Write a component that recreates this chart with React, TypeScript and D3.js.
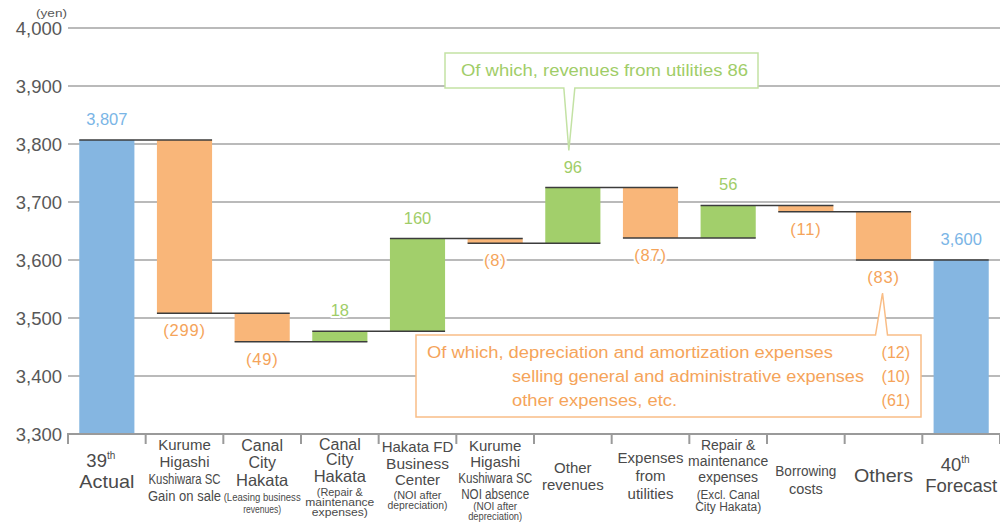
import * as d3 from "d3";

// waterfall: 39th actual -> 40th forecast (yen per unit)
const categories = [
  "39th Actual",
  "Kurume Higashi Kushiwara SC Gain on sale",
  "Canal City Hakata (Leasing business revenues)",
  "Canal City Hakata (Repair & maintenance expenses)",
  "Hakata FD Business Center (NOI after depreciation)",
  "Kurume Higashi Kushiwara SC NOI absence (NOI after depreciation)",
  "Other revenues",
  "Expenses from utilities",
  "Repair & maintenance expenses (Excl. Canal City Hakata)",
  "Borrowing costs",
  "Others",
  "40th Forecast",
];
const values = [3807, -299, -49, 18, 160, -8, 96, -87, 56, -11, -83, 3600];
const isTotal = [true, false, false, false, false, false, false, false, false, false, false, true];
const yTicks = [3300, 3400, 3500, 3600, 3700, 3800, 3900, 4000];

// x-axis label lines: [text, fontSize, baseline, textLength?, superscript?]
const axisLabels: [string, number, number, number?, string?][][] = [
  [["39", 18.5, 467, undefined, "th"], ["Actual", 18.5, 488, 55]],
  [["Kurume", 15, 450], ["Higashi", 15, 467], ["Kushiwara SC", 14, 484, 72], ["Gain on sale", 14, 501, 73]],
  [["Canal", 16, 451], ["City", 16, 468], ["Hakata", 16.5, 486], ["(Leasing business", 11, 501, 77], ["revenues)", 11, 513, 38]],
  [["Canal", 16, 450], ["City", 16, 465], ["Hakata", 16.5, 482], ["(Repair &", 11, 496, 46], ["maintenance", 11, 506, 69], ["expenses)", 11, 516, 56]],
  [["Hakata FD", 15, 452], ["Business", 15.5, 469], ["Center", 15, 485], ["(NOI after", 11, 499, 48], ["depreciation)", 11, 509, 60]],
  [["Kurume", 15, 451], ["Higashi", 15, 467], ["Kushiwara SC", 14, 483, 74], ["NOI absence", 14, 499, 68], ["(NOI after", 10, 510, 44], ["depreciation)", 10, 520, 54]],
  [["Other", 15, 473], ["revenues", 15, 490]],
  [["Expenses", 15, 463], ["from", 15, 481], ["utilities", 15, 499]],
  [["Repair &", 14, 450], ["maintenance", 14, 466], ["expenses", 14, 482], ["(Excl. Canal", 12.5, 499, 63], ["City Hakata)", 12.5, 511, 66]],
  [["Borrowing", 14.5, 476, 61], ["costs", 14.5, 494]],
  [["Others", 19, 482, 59]],
  [["40", 18.5, 471, undefined, "th"], ["Forecast", 18.5, 492]],
];

const utilitiesNote = "Of which, revenues from utilities 86";
const othersNoteText = [
  "Of which, depreciation and amortization expenses",
  "selling general and administrative expenses",
  "other expenses, etc.",
];
const othersNoteValues = ["(12)", "(10)", "(61)"];

const W = 1000;
const H = 526;
const FONT = "'Liberation Sans', Arial, sans-serif";
const BLUE = "#85b6e1";
const ORANGE = "#f9b679";
const GREEN = "#a2cf6b";
const BLUE_TXT = "#7ab5e6";
const ORANGE_TXT = "#f5a45a";
const GREEN_TXT = "#9fcd68";

export default function App() {
  const x = d3
    .scaleBand<string>()
    .domain(categories)
    .range([68, 1000])
    .paddingInner(0.29)
    .paddingOuter(0.145);
  const y = d3.scaleLinear().domain([3300, 4000]).range([434, 28]);
  const step = x.step();
  const bw = x.bandwidth();

  // running totals
  let run = 0;
  const bars = values.map((v, i) => {
    let lo, hi, end;
    if (isTotal[i]) {
      lo = 3300;
      hi = v;
      end = v;
    } else {
      const start = run;
      end = run + v;
      lo = Math.min(start, end);
      hi = Math.max(start, end);
    }
    run = end;
    const color = isTotal[i] ? BLUE : v < 0 ? ORANGE : GREEN;
    const txtColor = isTotal[i] ? BLUE_TXT : v < 0 ? ORANGE_TXT : GREEN_TXT;
    const label = isTotal[i] ? d3.format(",")(v) : v < 0 ? `(${-v})` : String(v);
    return { cat: categories[i], v, lo, hi, end, color, txtColor, label, total: isTotal[i] };
  });

  const halo = { paintOrder: "stroke", stroke: "#fff", strokeWidth: 4, strokeLinejoin: "round" as const };

  // callouts
  const gCx = x(categories[6])! + bw / 2 - 4;
  const gTip = y(bars[6].hi) - 37;
  const gBox = { x1: 445, x2: 758, y1: 53, y2: 88 };
  const greenPath = `M${gBox.x1},${gBox.y1}H${gBox.x2}V${gBox.y2}H${gCx + 6}L${gCx},${gTip}L${gCx - 5},${gBox.y2}H${gBox.x1}Z`;

  const oCx = x(categories[10])! + bw / 2 - 1;
  const oTip = y(bars[10].lo) + 33;
  const oBox = { x1: 416, x2: 921, y1: 335, y2: 417 };
  const orangePath = `M${oBox.x1},${oBox.y1}H${oCx - 7}L${oCx},${oTip}L${oCx + 5},${oBox.y1}H${oBox.x2}V${oBox.y2}H${oBox.x1}Z`;

  return (
    <div style={{ position: "absolute", left: 0, top: 0 }}>
      <svg width={W} height={H} style={{ display: "block", fontFamily: FONT }}>
        <rect width={W} height={H} fill="#fff" />

        {/* grid */}
        {yTicks.map((t) => (
          <g key={t}>
            {t !== 3300 && (
              <line x1={68} x2={1000} y1={y(t)} y2={y(t)} stroke="#a3a3a3" strokeWidth={1.3} />
            )}
            <text x={62} y={y(t) + 6.5} textAnchor="end" fontSize={18.5} fill="#585858">
              {d3.format(",")(t)}
            </text>
          </g>
        ))}
        <text x={36} y={17} fontSize={11.5} fill="#585858" textLength={31} lengthAdjust="spacingAndGlyphs">(yen)</text>

        {/* bars */}
        {bars.map((b) => (
          <rect key={b.cat} x={x(b.cat)} y={y(b.hi)} width={bw} height={y(b.lo) - y(b.hi)} fill={b.color} />
        ))}

        {/* connectors */}
        {bars.slice(0, -1).map((b, i) => (
          <line
            key={"c" + i}
            x1={x(b.cat)}
            x2={x(categories[i + 1])! + bw}
            y1={y(b.end)}
            y2={y(b.end)}
            stroke="#3c3c3c"
            strokeWidth={1.5}
          />
        ))}

        {/* axis */}
        <line x1={67} x2={1000} y1={434} y2={434} stroke="#9a9a9a" strokeWidth={2} />
        {d3.range(13).map((i) => (
          <line
            key={"t" + i}
            x1={68 + i * step}
            x2={68 + i * step}
            y1={434}
            y2={444}
            stroke="#9a9a9a"
            strokeWidth={2}
          />
        ))}

        {/* value labels */}
        {bars.map((b) => (
          <text
            key={"v" + b.cat}
            x={x(b.cat)! + bw / 2}
            y={b.v < 0 ? y(b.lo) + 23 : y(b.hi) - 15}
            textAnchor="middle"
            fontSize={16.5}
            fill={b.txtColor}
            letterSpacing={b.v < 0 ? 0.8 : 0}
            style={halo}
          >
            {b.label}
          </text>
        ))}

        {/* category labels */}
        {axisLabels.map((lines, i) => {
          const cx = 68 + (i + 0.5) * step;
          return (
            <g key={"a" + i}>
              {lines.map(([t, fs, by, tl, sup], j) => (
                <text
                  key={j}
                  x={sup ? cx - 6 : cx}
                  y={by}
                  textAnchor="middle"
                  fontSize={fs}
                  fill="#4a4a4a"
                  textLength={tl}
                  lengthAdjust={tl ? "spacingAndGlyphs" : undefined}
                >
                  {t}
                  {sup && (
                    <tspan dy={-8} fontSize={10}>
                      {sup}
                    </tspan>
                  )}
                </text>
              ))}
            </g>
          );
        })}

        {/* green callout */}
        <path d={greenPath} fill="#fff" stroke="#c3e2a4" strokeWidth={1.5} />
        <text x={461} y={76} fontSize={16} fill={GREEN_TXT} textLength={287} lengthAdjust="spacingAndGlyphs">
          {utilitiesNote}
        </text>

        {/* orange callout */}
        <path d={orangePath} fill="#fff" stroke="#f9bd86" strokeWidth={1.5} />
        {othersNoteText.map((t, i) => (
          <g key={"n" + i}>
            <text
              x={i === 0 ? 427 : 512}
              y={358 + i * 24}
              fontSize={16}
              fill={ORANGE_TXT}
              textLength={[406, 352, 165][i]}
              lengthAdjust="spacingAndGlyphs"
            >
              {t}
            </text>
            <text x={910} y={358 + i * 24} textAnchor="end" fontSize={16} fill={ORANGE_TXT}>
              {othersNoteValues[i]}
            </text>
          </g>
        ))}
      </svg>
    </div>
  );
}
